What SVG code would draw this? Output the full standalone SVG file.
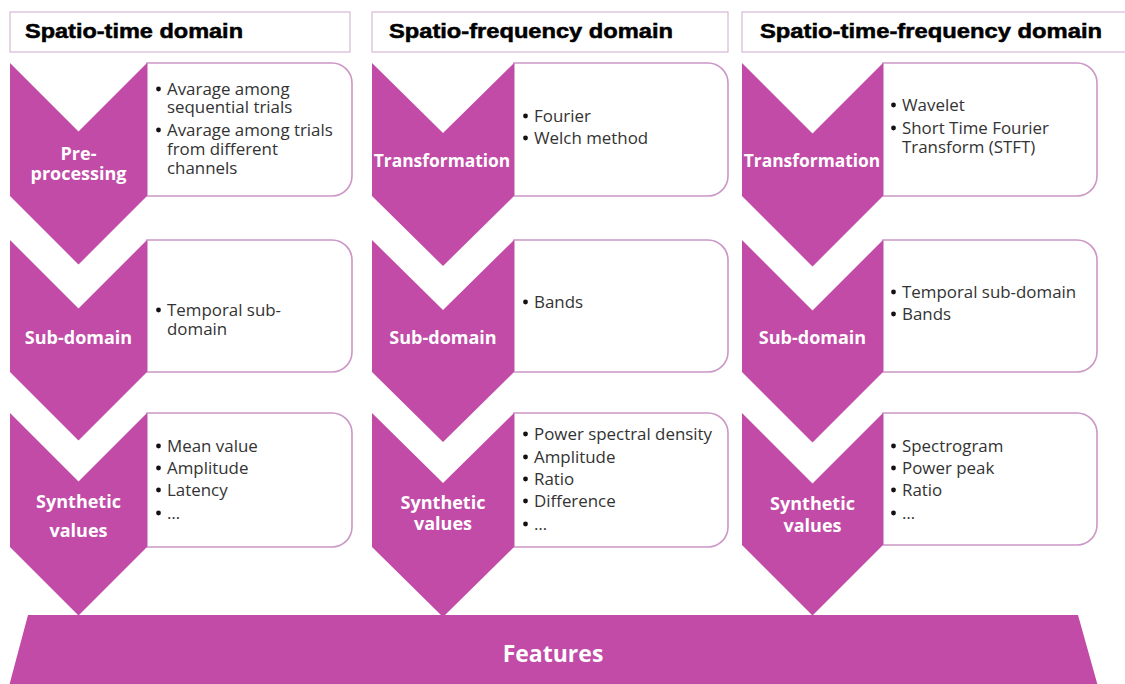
<svg xmlns="http://www.w3.org/2000/svg" width="1125" height="684" viewBox="0 0 1125 684">
<style>
.hdr{fill:#fff;stroke:#d8b8d6;stroke-width:1.2}
.ht{font-family:"Liberation Sans",Arial,sans-serif;font-weight:bold;font-size:20px;fill:#000;stroke:#000;stroke-width:0.5}
.chev{fill:#C14BA7}
.box{fill:#fff;stroke:#cc96c6;stroke-width:1.6}
.lbl{font-family:"Open Sans",sans-serif;font-weight:bold;font-size:18px;fill:#fff;text-anchor:middle}
.tr{font-size:17.4px}
.bt{font-family:"Open Sans",sans-serif;font-size:16.9px;fill:#333}
.dot{fill:#111}
.feat{font-family:"Open Sans",sans-serif;font-weight:bold;font-size:23px;fill:#fff;text-anchor:middle}
</style>
<rect width="1125" height="684" fill="#fff"/>

<!-- Column 1 -->
<g id="col1-header">
<rect class="hdr" x="10" y="12" width="340" height="40"/>
<text class="ht" x="25" y="38" textLength="218" lengthAdjust="spacingAndGlyphs">Spatio-time domain</text>
</g>
<g id="col1-preprocessing">
<path class="box" d="M147,63 H332 A20,20 0 0 1 352,83 V176 A20,20 0 0 1 332,196 H147 Z"/>
<path class="chev" d="M10,63 L78.5,131.5 L147,63 V196 L78.5,264.5 L10,196 Z"/>
<text class="lbl" x="78.5" y="160">Pre-</text>
<text class="lbl" x="78.5" y="180">processing</text>
<circle class="dot" cx="158.5" cy="89" r="2.4"/>
<text class="bt" x="167" y="95">Avarage among</text>
<text class="bt" x="167" y="113">sequential trials</text>
<circle class="dot" cx="158.5" cy="130" r="2.4"/>
<text class="bt" x="167" y="136">Avarage among trials</text>
<text class="bt" x="167" y="155">from different</text>
<text class="bt" x="167" y="174">channels</text>
</g>
<g id="col1-subdomain">
<path class="box" d="M147,240 H332 A20,20 0 0 1 352,260 V352 A20,20 0 0 1 332,372 H147 Z"/>
<path class="chev" d="M10,240 L78.5,308.5 L147,240 V372 L78.5,440.5 L10,372 Z"/>
<text class="lbl" x="78.5" y="344">Sub-domain</text>
<circle class="dot" cx="158.5" cy="310" r="2.4"/>
<text class="bt" x="167" y="316">Temporal sub-</text>
<text class="bt" x="167" y="335">domain</text>
</g>
<g id="col1-synthetic">
<path class="box" d="M147,413 H332 A20,20 0 0 1 352,433 V527 A20,20 0 0 1 332,547 H147 Z"/>
<path class="chev" d="M10,413 L78.5,481.5 L147,413 V547 L78.5,615.5 L10,547 Z"/>
<text class="lbl" x="78.5" y="508">Synthetic</text>
<text class="lbl" x="78.5" y="537">values</text>
<circle class="dot" cx="158.5" cy="446" r="2.4"/>
<text class="bt" x="167" y="452">Mean value</text>
<circle class="dot" cx="158.5" cy="468" r="2.4"/>
<text class="bt" x="167" y="474">Amplitude</text>
<circle class="dot" cx="158.5" cy="490" r="2.4"/>
<text class="bt" x="167" y="496">Latency</text>
<circle class="dot" cx="158.5" cy="513" r="2.4"/>
<text class="bt" x="167" y="519">…</text>
</g>

<!-- Column 2 -->
<g id="col2-header">
<rect class="hdr" x="372" y="12" width="356" height="40"/>
<text class="ht" x="389" y="38" textLength="284" lengthAdjust="spacingAndGlyphs">Spatio-frequency domain</text>
</g>
<g id="col2-transformation">
<path class="box" d="M514,63 H708 A20,20 0 0 1 728,83 V176 A20,20 0 0 1 708,196 H514 Z"/>
<path class="chev" d="M372,63 L443,133 L514,63 V196 L443,266 L372,196 Z"/>
<text class="lbl tr" x="442" y="167">Transformation</text>
<circle class="dot" cx="525.5" cy="116" r="2.4"/>
<text class="bt" x="534" y="122">Fourier</text>
<circle class="dot" cx="525.5" cy="138" r="2.4"/>
<text class="bt" x="534" y="144">Welch method</text>
</g>
<g id="col2-subdomain">
<path class="box" d="M514,240 H708 A20,20 0 0 1 728,260 V352 A20,20 0 0 1 708,372 H514 Z"/>
<path class="chev" d="M372,240 L443,310 L514,240 V372 L443,442 L372,372 Z"/>
<text class="lbl" x="443" y="344">Sub-domain</text>
<circle class="dot" cx="525.5" cy="302" r="2.4"/>
<text class="bt" x="534" y="308">Bands</text>
</g>
<g id="col2-synthetic">
<path class="box" d="M514,413 H708 A20,20 0 0 1 728,433 V527 A20,20 0 0 1 708,547 H514 Z"/>
<path class="chev" d="M372,413 L443,483 L514,413 V547 L443,617 L372,547 Z"/>
<text class="lbl" x="443" y="509">Synthetic</text>
<text class="lbl" x="443" y="530">values</text>
<circle class="dot" cx="525.5" cy="434" r="2.4"/>
<text class="bt" x="534" y="440">Power spectral density</text>
<circle class="dot" cx="525.5" cy="457" r="2.4"/>
<text class="bt" x="534" y="463">Amplitude</text>
<circle class="dot" cx="525.5" cy="479" r="2.4"/>
<text class="bt" x="534" y="485">Ratio</text>
<circle class="dot" cx="525.5" cy="501" r="2.4"/>
<text class="bt" x="534" y="507">Difference</text>
<circle class="dot" cx="525.5" cy="524" r="2.4"/>
<text class="bt" x="534" y="530">…</text>
</g>

<!-- Column 3 -->
<g id="col3-header">
<rect class="hdr" x="742" y="12" width="395" height="40"/>
<text class="ht" x="760" y="38" textLength="342" lengthAdjust="spacingAndGlyphs">Spatio-time-frequency domain</text>
</g>
<g id="col3-transformation">
<path class="box" d="M883,63 H1077 A20,20 0 0 1 1097,83 V176 A20,20 0 0 1 1077,196 H883 Z"/>
<path class="chev" d="M742,63 L812.5,133.5 L883,63 V196 L812.5,266.5 L742,196 Z"/>
<text class="lbl tr" x="812" y="167">Transformation</text>
<circle class="dot" cx="893.5" cy="105" r="2.4"/>
<text class="bt" x="902" y="111">Wavelet</text>
<circle class="dot" cx="893.5" cy="128" r="2.4"/>
<text class="bt" x="902" y="134">Short Time Fourier</text>
<text class="bt" x="902" y="153">Transform (STFT)</text>
</g>
<g id="col3-subdomain">
<path class="box" d="M883,240 H1077 A20,20 0 0 1 1097,260 V352 A20,20 0 0 1 1077,372 H883 Z"/>
<path class="chev" d="M742,240 L812.5,310.5 L883,240 V372 L812.5,442.5 L742,372 Z"/>
<text class="lbl" x="812.5" y="344">Sub-domain</text>
<circle class="dot" cx="893.5" cy="292" r="2.4"/>
<text class="bt" x="902" y="298">Temporal sub-domain</text>
<circle class="dot" cx="893.5" cy="314" r="2.4"/>
<text class="bt" x="902" y="320">Bands</text>
</g>
<g id="col3-synthetic">
<path class="box" d="M883,413 H1077 A20,20 0 0 1 1097,433 V525 A20,20 0 0 1 1077,545 H883 Z"/>
<path class="chev" d="M742,413 L812.5,483.5 L883,413 V545 L812.5,615.5 L742,545 Z"/>
<text class="lbl" x="812.5" y="510">Synthetic</text>
<text class="lbl" x="812.5" y="532">values</text>
<circle class="dot" cx="893.5" cy="446" r="2.4"/>
<text class="bt" x="902" y="452">Spectrogram</text>
<circle class="dot" cx="893.5" cy="468" r="2.4"/>
<text class="bt" x="902" y="474">Power peak</text>
<circle class="dot" cx="893.5" cy="490" r="2.4"/>
<text class="bt" x="902" y="496">Ratio</text>
<circle class="dot" cx="893.5" cy="513" r="2.4"/>
<text class="bt" x="902" y="519">…</text>
</g>

<g id="features">
<path class="chev" d="M28,615 H1078 L1099,690 H8 Z"/>
<text class="feat" x="553" y="662">Features</text>
</g>
</svg>
